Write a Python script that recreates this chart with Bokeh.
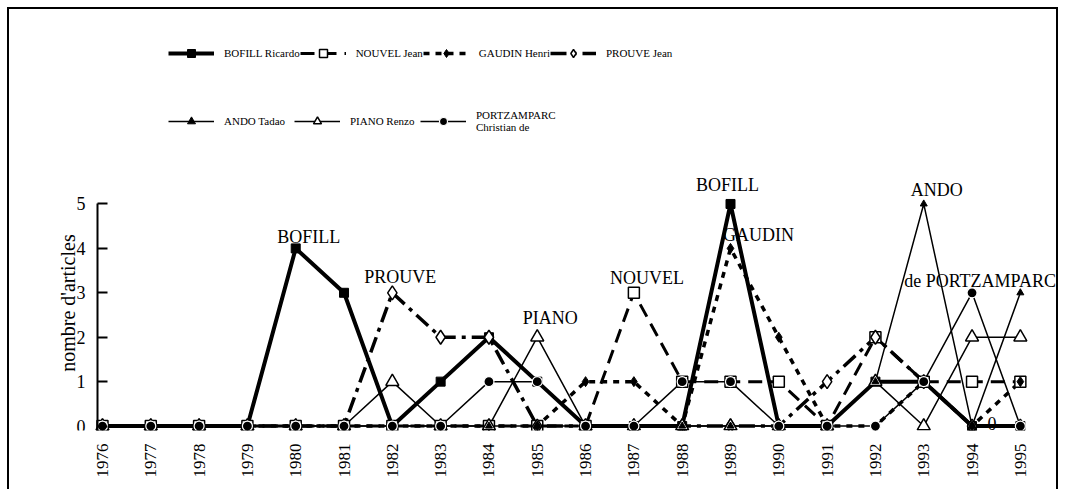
import math
from bokeh.plotting import figure
from bokeh.models import ColumnDataSource, FixedTicker, Legend, LegendItem, Range1d
from bokeh.core.properties import value
from bokeh.embed import file_html
from bokeh.resources import INLINE

# ---------------- data ----------------
years = list(range(1976, 1996))
bofill = [0, 0, 0, 0, 4, 3, 0, 1, 2, 1, 0, 0, 0, 5, 0, 0, 1, 1, 0, 0]
nouvel = [0, 0, 0, 0, 0, 0, 0, 0, 0, 0, 0, 3, 1, 1, 1, 0, 2, 1, 1, 1]
gaudin = [0, 0, 0, 0, 0, 0, 0, 0, 0, 0, 1, 1, 0, 4, 2, 0, 0, 1, 0, 1]
prouve = [0, 0, 0, 0, 0, 0, 3, 2, 2, 0, 0, 0, 0, 0, 0, 1, 2, 1, 0, 0]
ando = [0, 0, 0, 0, 0, 0, 0, 0, 0, 0, 0, 0, 0, 0, 0, 0, 1, 5, 0, 3]
piano = [0, 0, 0, 0, 0, 0, 1, 0, 0, 2, 0, 0, 0, 0, 0, 0, 1, 0, 2, 2]
portzamparc = [0, 0, 0, 0, 0, 0, 0, 0, 1, 1, 0, 0, 1, 1, 0, 0, 0, 1, 3, 0]

series_names = ["BOFILL Ricardo", "NOUVEL Jean", "GAUDIN Henri", "PROUVE Jean",
                "ANDO Tadao", "PIANO Renzo", "PORTZAMPARC\nChristian de"]
y_ticks = [0, 1, 2, 3, 4, 5]
y_title = "nombre d'articles"

label_text = ["BOFILL", "PROUVE", "PIANO", "NOUVEL", "BOFILL", "GAUDIN", "ANDO",
              "de PORTZAMPARC", "0"]
label_year = [1980, 1982, 1985, 1987, 1989, 1989, 1993, 1994, 1994]
label_value = [4, 3, 2, 3, 5, 4, 5, 3, 0]

# ---------------- styles / layout ----------------
label_dx = [13, 8, 13, 13, -3, 28, 13, 8, 20]
label_dy = [-11, -16, -19, -15, -19, -13, -14, -12, -3]

SERIF = "Liberation Serif"
X0 = 1974.924          # left edge of the frame
AXIS_X = 1975.896      # where the y axis is drawn
Y_TITLE_POS = 2.77     # vertical centre of the y-axis title

p = figure(width=1051, height=482,
           x_range=Range1d(X0, 1995.831), y_range=Range1d(-0.1, 9.13),
           output_backend="svg", toolbar_location=None,
           min_border_left=41, min_border_right=0,
           min_border_top=11, min_border_bottom=61)
p.styles = {"margin": "7px 7px 0px 7px", "border-top": "2px solid black",
            "border-left": "2px solid black", "border-right": "2px solid black"}
p.xgrid.visible = False
p.ygrid.visible = False
p.outline_line_color = None
p.background_fill_color = "white"
p.border_fill_color = "white"

# y axis, drawn at a fixed place inside the frame
p.yaxis.fixed_location = AXIS_X
p.yaxis.ticker = FixedTicker(ticks=y_ticks)
p.yaxis.bounds = (-0.1, 5)
p.yaxis.major_label_text_font = SERIF
p.yaxis.major_label_text_font_size = "18px"
p.yaxis.major_label_text_color = "black"
p.yaxis.major_label_standoff = 12
p.yaxis.major_tick_in = 10
p.yaxis.major_tick_out = 0
p.yaxis.minor_tick_line_color = None
p.yaxis.axis_line_width = 2
p.yaxis.major_tick_line_width = 2
p.yaxis.axis_line_color = "black"
p.yaxis.major_tick_line_color = "black"

# x axis
p.xaxis.ticker = FixedTicker(ticks=years)
p.xaxis.major_label_orientation = math.pi / 2
p.xaxis.axis_line_color = None
p.xaxis.major_tick_line_color = None
p.xaxis.minor_tick_line_color = None
p.xaxis.major_tick_in = 0
p.xaxis.major_tick_out = 0
p.xaxis.major_label_standoff = 13
p.xaxis.major_label_text_font = SERIF
p.xaxis.major_label_text_font_size = "17px"
p.xaxis.major_label_text_color = "black"

src = ColumnDataSource(dict(year=years, bofill=bofill, nouvel=nouvel, gaudin=gaudin,
                            prouve=prouve, ando=ando, piano=piano, portz=portzamparc))

# lines
l_bofill = p.line("year", "bofill", source=src, line_color="black", line_width=4)
l_nouvel = p.line("year", "nouvel", source=src, line_color="black", line_width=3,
                  line_dash="14 8")
l_gaudin = p.line("year", "gaudin", source=src, line_color="black", line_width=3.5,
                  line_dash="6 6")
l_prouve = p.line("year", "prouve", source=src, line_color="black", line_width=3.5,
                  line_dash="16 6 4 6")
l_ando = p.line("year", "ando", source=src, line_color="black", line_width=1.5)
l_piano = p.line("year", "piano", source=src, line_color="black", line_width=1.5)
l_portz = p.line("year", "portz", source=src, line_color="black", line_width=1.5)

# markers
m_bofill = p.scatter("year", "bofill", source=src, marker="square", size=9,
                     fill_color="black", line_color="black")
m_nouvel = p.scatter("year", "nouvel", source=src, marker="square", size=11,
                     fill_color="white", line_color="black", line_width=1.5)
m_prouve = p.scatter("year", "prouve", source=src, marker="diamond", size=14,
                     fill_color="white", line_color="black", line_width=1.5)
m_gaudin = p.scatter("year", "gaudin", source=src, marker="diamond", size=10,
                     fill_color="black", line_color="black")
m_piano = p.scatter("year", "piano", source=src, marker="triangle", size=13,
                    fill_color="white", line_color="black", line_width=1.5)
m_ando = p.scatter("year", "ando", source=src, marker="triangle", size=7,
                   fill_color="black", line_color="black")
m_portz = p.scatter("year", "portz", source=src, marker="circle", size=10,
                    fill_color="black", line_color="white", line_width=1.2)

# annotations on the series
lab_src = ColumnDataSource(dict(x=label_year, y=label_value, text=label_text,
                                dx=label_dx, dy=label_dy))
p.text(x="x", y="y", text="text", source=lab_src, x_offset="dx", y_offset="dy",
       text_align="center", text_baseline="middle", text_font=value(SERIF),
       text_font_size="18px", text_color="black")

# y-axis title (placed beside the axis)
p.text(x=[AXIS_X], y=[Y_TITLE_POS], text=[y_title], angle=math.pi / 2,
       x_offset=-29, text_align="center", text_baseline="middle",
       text_font=value(SERIF), text_font_size="20px", text_color="black")

# legends
pairs = [(l_bofill, m_bofill), (l_nouvel, m_nouvel), (l_gaudin, m_gaudin),
         (l_prouve, m_prouve), (l_ando, m_ando), (l_piano, m_piano), (l_portz, m_portz)]
items = [LegendItem(label=name, renderers=list(rs)) for name, rs in zip(series_names, pairs)]

common = dict(orientation="horizontal", glyph_width=46, glyph_height=20,
              label_standoff=10, spacing=0, padding=0, margin=0,
              border_line_color=None, background_fill_alpha=0,
              label_text_font=SERIF, label_text_font_size="11px",
              label_text_color="black")
leg1 = Legend(items=items[:4], location=(118, 367), label_width=64, **common)
leg2 = Legend(items=items[4:], location=(118, 297), label_width=70, **common)
p.add_layout(leg1)
p.add_layout(leg2)

open("out.html", "w").write(file_html(p, INLINE))
